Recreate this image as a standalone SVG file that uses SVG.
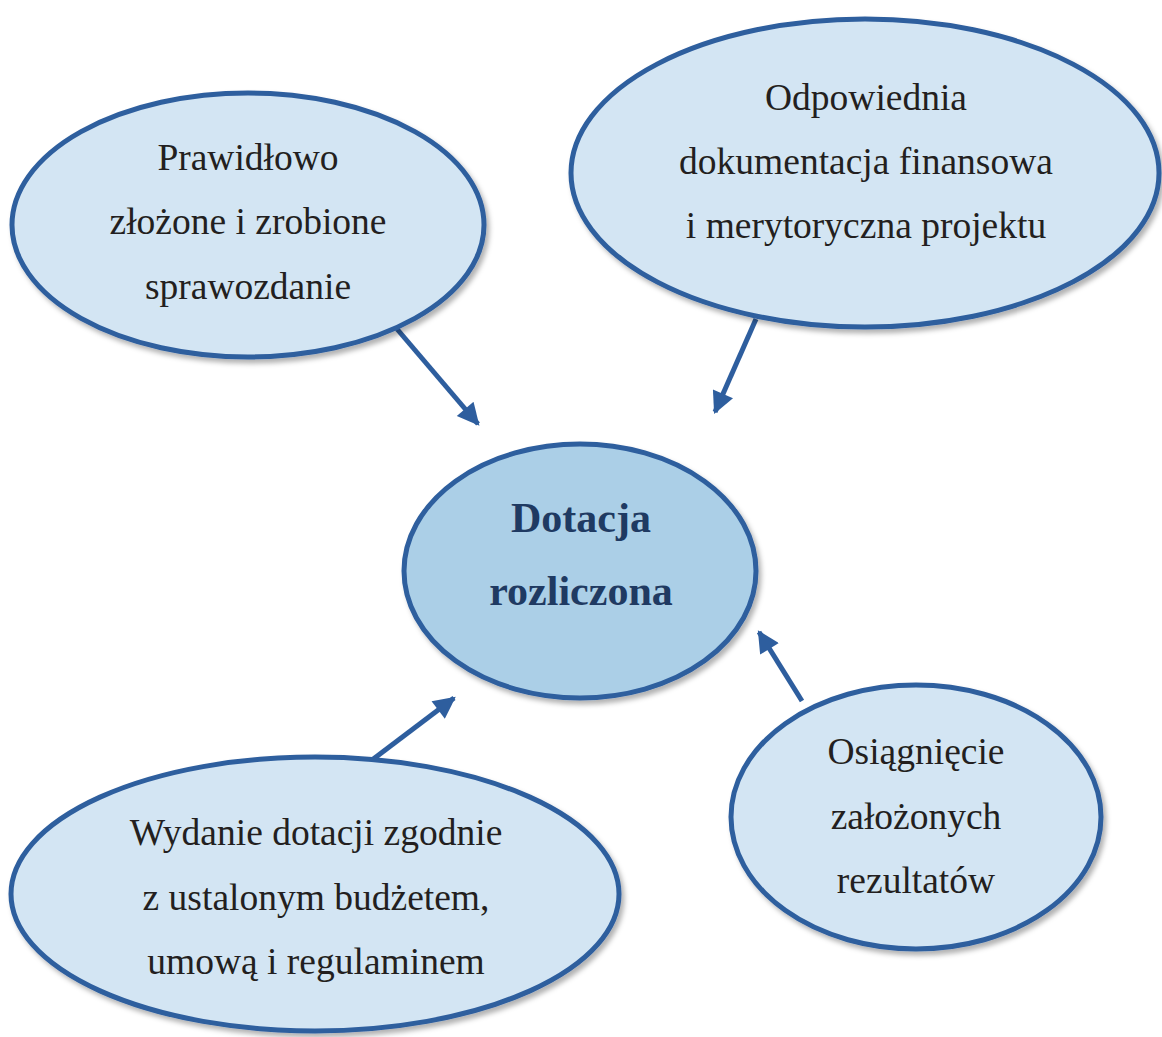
<svg xmlns="http://www.w3.org/2000/svg" width="1162" height="1037" viewBox="0 0 1162 1037">
<defs>
<style>
.node{fill:#D3E5F3;stroke:#2E5E9E;stroke-width:5;filter:url(#sh)}
.main{fill:#ABCFE7;stroke:#2E5E9E;stroke-width:5;filter:url(#sh)}
.t{font-family:"Liberation Serif","Times New Roman",serif;font-size:37.5px;fill:#231F20;text-anchor:middle}
.b{font-family:"Liberation Serif","Times New Roman",serif;font-size:42px;font-weight:bold;fill:#1F3A62;text-anchor:middle}
.c{stroke:#2E5E9E;stroke-width:5;fill:none;marker-end:url(#ah)}
</style>
<filter id="sh" x="-10%" y="-10%" width="125%" height="125%">
<feDropShadow dx="3" dy="4" stdDeviation="2.5" flood-color="#000" flood-opacity="0.3"/>
</filter>
<marker id="ah" viewBox="0 0 10 10" refX="9" refY="5" markerWidth="4.8" markerHeight="4.4" orient="auto" markerUnits="strokeWidth">
<path d="M0,0 L10,5 L0,10 Z" fill="#2E5E9E"/>
</marker>
</defs>
<g id="connectors">
<line class="c" x1="397" y1="329" x2="478" y2="424"/>
<line class="c" x1="756" y1="319" x2="715" y2="412"/>
<line class="c" x1="802" y1="701" x2="759" y2="632"/>
<line class="c" x1="372" y1="760" x2="454" y2="698"/>
</g>
<g id="node-sprawozdanie">
<ellipse class="node" cx="248" cy="225" rx="236" ry="132"/>
<text class="t" x="248" y="170">Prawidłowo</text>
<text class="t" x="248" y="234">złożone i zrobione</text>
<text class="t" x="248" y="299">sprawozdanie</text>
</g>
<g id="node-dokumentacja">
<ellipse class="node" cx="865" cy="173" rx="294" ry="154"/>
<text class="t" x="866" y="110">Odpowiednia</text>
<text class="t" x="866" y="174">dokumentacja finansowa</text>
<text class="t" x="866" y="238">i merytoryczna projektu</text>
</g>
<g id="node-dotacja">
<ellipse class="main" cx="580" cy="571" rx="176" ry="127"/>
<text class="b" x="581" y="532">Dotacja</text>
<text class="b" x="581" y="605">rozliczona</text>
</g>
<g id="node-wydanie">
<ellipse class="node" cx="315" cy="894" rx="304" ry="137"/>
<text class="t" x="316" y="845">Wydanie dotacji zgodnie</text>
<text class="t" x="316" y="910">z ustalonym budżetem,</text>
<text class="t" x="316" y="974">umową i regulaminem</text>
</g>
<g id="node-rezultaty">
<ellipse class="node" cx="916" cy="817" rx="185" ry="132"/>
<text class="t" x="916" y="764">Osiągnięcie</text>
<text class="t" x="916" y="829">założonych</text>
<text class="t" x="916" y="893">rezultatów</text>
</g>
</svg>
